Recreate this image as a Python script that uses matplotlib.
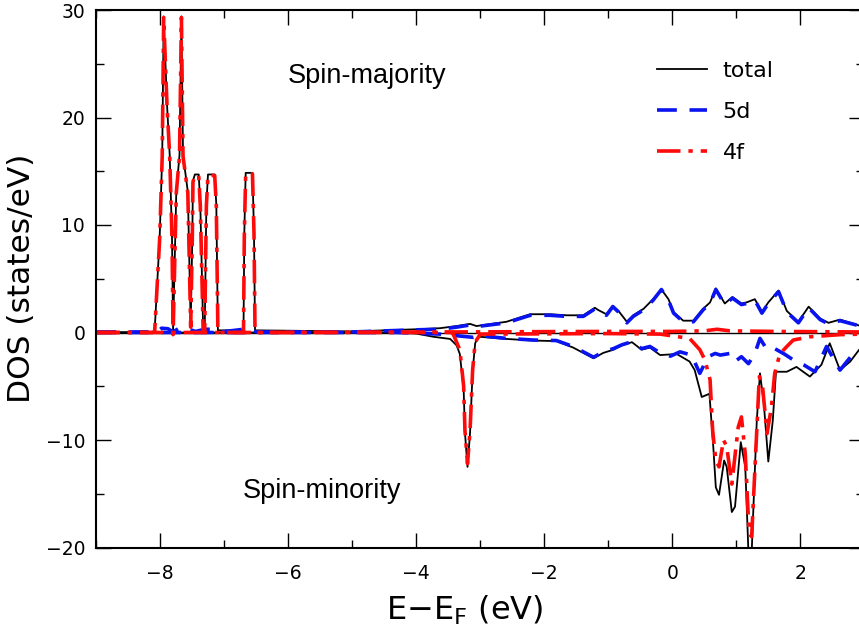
import numpy as np
import matplotlib
matplotlib.use("Agg")
from matplotlib import pyplot as plt
from matplotlib.ticker import MultipleLocator

# ---- data (E - E_F in eV, DOS in states/eV) ----
# spin-majority, total
e_tot_up = [-9.0, -8.12, -8.088, -8.01, -7.97, -7.947, -7.895, -7.853, -7.817, -7.80,
            -7.75, -7.70, -7.67, -7.645, -7.57, -7.525, -7.50, -7.49, -7.46, -7.40,
            -7.375, -7.33, -7.306, -7.28, -7.255, -7.15, -7.125, -7.10, -6.70, -6.687,
            -6.666, -6.56, -6.536, -6.52, -5.0, -4.5, -4.0, -3.63, -3.37, -3.16,
            -3.06, -2.59, -2.38, -2.22, -1.91, -1.65, -1.39, -1.21, -1.16, -1.03,
            -0.93, -0.84, -0.71, -0.61, -0.45, -0.30, -0.17, -0.06, 0.02, 0.17,
            0.33, 0.48, 0.59, 0.68, 0.82, 0.94, 1.08, 1.16, 1.29, 1.40,
            1.50, 1.66, 1.79, 1.97, 2.13, 2.31, 2.44, 2.62, 3.0]
tot_up = [0.0, 0.05, 0.2, 8.8, 16.5, 29.4, 21.2, 16.5, 8.8, 0.2,
          13.1, 16.5, 29.4, 16.5, 13.1, 0.7, 8.8, 14.1, 14.7, 14.7,
          11.9, 0.2, 0.3, 11.9, 14.7, 14.7, 11.9, 0.2, 0.2, 9.3,
          14.85, 14.85, 9.3, 0.2, 0.1, 0.2, 0.3, 0.4, 0.6, 0.8,
          0.6, 1.0, 1.4, 1.7, 1.7, 1.6, 1.6, 2.3, 2.1, 1.7,
          2.5, 2.0, 1.0, 1.6, 2.2, 3.1, 4.0, 3.1, 1.9, 1.1,
          1.1, 2.2, 2.8, 4.1, 2.7, 3.3, 2.7, 2.8, 3.1, 1.9,
          2.8, 3.9, 2.0, 1.0, 2.4, 1.3, 0.9, 1.2, 0.5]

# spin-majority, 5d
e_d_up = [-9.0, -8.05, -7.98, -7.88, -7.80, -7.72, -7.55, -7.45, -7.30, -7.20,
          -7.05, -6.70, -6.58, -6.50, -5.0, -4.5, -4.0, -3.63, -3.37, -3.16,
          -3.06, -2.59, -2.38, -2.22, -1.91, -1.65, -1.39, -1.21, -1.16, -1.03,
          -0.93, -0.84, -0.71, -0.61, -0.45, -0.30, -0.17, -0.06, 0.02, 0.17,
          0.33, 0.48, 0.59, 0.68, 0.82, 0.94, 1.08, 1.16, 1.29, 1.40,
          1.50, 1.66, 1.79, 1.97, 2.13, 2.31, 2.44, 2.62, 3.0]
d_up = [0.05, 0.05, 0.4, 0.35, 0.05, 0.35, 0.3, 0.1, 0.3, 0.3,
        0.05, 0.3, 0.3, 0.05, 0.05, 0.15, 0.25, 0.3, 0.5, 0.7,
        0.55, 0.9, 1.3, 1.6, 1.6, 1.5, 1.5, 2.2, 2.0, 1.6,
        2.4, 1.9, 0.9, 1.5, 2.1, 3.0, 4.0, 3.0, 1.8, 1.0,
        1.0, 2.1, 2.7, 4.0, 2.6, 3.2, 2.6, 2.7, 3.0, 1.8,
        2.7, 3.8, 1.9, 0.9, 2.3, 1.2, 0.8, 1.1, 0.5]

# spin-majority, 4f
e_f_up = [-9.0, -8.12, -8.088, -8.01, -7.97, -7.947, -7.895, -7.853, -7.817, -7.80,
          -7.75, -7.70, -7.67, -7.645, -7.57, -7.525, -7.50, -7.49, -7.46, -7.40,
          -7.375, -7.33, -7.306, -7.28, -7.255, -7.15, -7.125, -7.10, -6.70, -6.687,
          -6.666, -6.56, -6.536, -6.52, -3.5, -1.0, 0.0, 0.5, 0.7, 0.9,
          1.6, 3.0]
f_up = [0.0, 0.0, 0.1, 8.7, 16.4, 29.3, 21.1, 16.4, 8.7, -0.2,
        13.0, 16.4, 29.3, 16.4, 13.0, 0.5, 8.7, 14.0, 14.6, 14.6,
        11.8, 0.0, 0.1, 11.8, 14.6, 14.6, 11.8, 0.0, 0.0, 9.2,
        14.75, 14.75, 9.2, 0.0, 0.05, 0.1, 0.1, 0.15, 0.3, 0.15,
        0.1, 0.05]

# spin-minority, total
e_tot_dn = [-9.0, -4.3, -4.0, -3.73, -3.47, -3.37, -3.32, -3.26, -3.24, -3.20,
            -3.16, -3.12, -3.08, -3.04, -3.0, -2.59, -2.17, -1.81, -1.55, -1.39,
            -1.23, -1.08, -0.92, -0.79, -0.63, -0.48, -0.35, -0.19, 0.07, 0.27,
            0.35, 0.46, 0.58, 0.64, 0.68, 0.73, 0.81, 0.85, 0.93, 0.98,
            1.07, 1.14, 1.19, 1.24, 1.32, 1.37, 1.43, 1.50, 1.57, 1.62,
            1.79, 1.94, 2.15, 2.33, 2.46, 2.62, 2.78, 2.92, 3.0]
tot_dn = [0.0, 0.0, -0.1, -0.4, -0.6, -1.2, -2.0, -5.3, -9.3, -12.5,
          -9.3, -3.6, -1.0, -0.5, -0.4, -0.6, -0.75, -0.8, -1.4, -1.9,
          -2.4, -1.9, -1.6, -1.2, -0.9, -1.6, -1.4, -2.1, -2.0, -2.7,
          -3.5, -6.0, -5.7, -10.6, -14.4, -15.1, -11.9, -12.5, -16.7, -16.2,
          -10.2, -12.5, -20.5, -20.5, -8.2, -3.8, -6.6, -12.0, -8.2, -3.65,
          -3.65, -3.2, -4.1, -3.0, -1.0, -3.5, -2.7, -1.6, -1.4]

# spin-minority, 5d
e_d_dn = [-9.0, -4.3, -3.63, -3.11, -3.0, -2.59, -2.17, -1.81, -1.55, -1.39,
          -1.23, -1.08, -0.92, -0.79, -0.63, -0.48, -0.35, -0.19, -0.03, 0.12,
          0.30, 0.43, 0.56, 0.67, 0.75, 0.90, 0.98, 1.08, 1.19, 1.29,
          1.37, 1.48, 1.60, 1.75, 1.89, 2.05, 2.23, 2.41, 2.62, 2.83, 3.0]
d_dn = [0.0, 0.0, -0.15, -0.45, -0.3, -0.55, -0.7, -0.75, -1.3, -1.8,
        -2.3, -1.8, -1.5, -1.15, -0.85, -1.5, -1.3, -1.9, -2.2, -1.8,
        -2.1, -3.8, -2.25, -1.95, -2.1, -1.95, -2.7, -2.25, -2.9, -1.95,
        -0.55, -1.6, -1.5, -2.0, -2.55, -3.0, -3.65, -1.3, -3.5, -1.95, -1.5]

# spin-minority, 4f
e_f_dn = [-9.0, -3.45, -3.42, -3.32, -3.26, -3.24, -3.20, -3.16, -3.12, -3.08,
          -3.0, -1.0, -0.19, 0.27, 0.43, 0.51, 0.59, 0.63, 0.68, 0.73,
          0.80, 0.85, 0.93, 1.03, 1.08, 1.14, 1.20, 1.24, 1.29, 1.36,
          1.41, 1.48, 1.55, 1.60, 1.68, 1.79, 1.89, 2.15, 2.62, 3.0]
f_dn = [0.0, 0.0, -0.2, -1.6, -5.0, -9.1, -12.2, -9.1, -3.5, -0.9,
        -0.15, -0.1, -0.15, -0.55, -1.6, -2.55, -4.4, -9.1, -11.9, -12.5,
        -10.0, -10.6, -14.1, -8.8, -7.85, -11.3, -18.7, -19.0, -12.8, -4.1,
        -5.0, -9.4, -6.9, -3.8, -2.0, -1.3, -0.7, -0.4, -0.2, -0.15]

plt.rcParams['font.family'] = 'DejaVu Sans'

fig = plt.figure(figsize=(8.59, 6.34), dpi=100)
ax = fig.add_axes([96.3 / 859, 86.5 / 634, 768 / 859, 537.5 / 634])

kw_tot = dict(color='black', lw=1.3, solid_joinstyle='round')
kw_d = dict(color='#0a14f0', lw=2.6, dashes=(5.5, 3.5))
kw_f = dict(color='#ff0a0a', lw=2.6, dashes=(6.5, 2.2, 1.2, 2.2))

ax.axhline(0, color='black', lw=1.0)
ax.plot(e_tot_up, tot_up, label='total', **kw_tot)
ax.plot(e_tot_dn, tot_dn, **kw_tot)
ax.plot(e_d_up, d_up, label='5d', **kw_d)
ax.plot(e_d_dn, d_dn, **kw_d)
ax.plot(e_f_up, f_up, label='4f', **kw_f)
ax.plot(e_f_dn, f_dn, **kw_f)

ax.set_xlim(-9, 3)
ax.set_ylim(-20, 30)
ax.xaxis.set_major_locator(MultipleLocator(2))
ax.xaxis.set_minor_locator(MultipleLocator(1))
ax.yaxis.set_major_locator(MultipleLocator(10))
ax.yaxis.set_minor_locator(MultipleLocator(5))
ax.tick_params(which='both', direction='in', top=True, right=True, width=1.0)
ax.tick_params(which='major', length=11, labelsize=13.5)
ax.tick_params(axis='x', which='major', pad=12)
ax.tick_params(axis='y', which='major', pad=8)
ax.tick_params(which='minor', length=5.5)
for s in ax.spines.values():
    s.set_linewidth(1.5)

ax.set_xlabel(r'E$-$E$_{\mathregular{F}}$ (eV)', fontsize=23)
ax.set_ylabel('DOS (states/eV)', fontsize=22.5)
ax.xaxis.set_label_coords(0.479, -0.085)
ax.yaxis.set_label_coords(-0.078, 0.5)

ax.text(-4.77, 23.9, 'Spin-majority', fontsize=19.5, family='Liberation Sans',
        ha='center', va='center')
ax.text(-5.47, -14.7, 'Spin-minority', fontsize=19.5, family='Liberation Sans',
        ha='center', va='center')

ax.legend(loc='upper left', bbox_to_anchor=(657 / 859, 1 - 61 / 634),
          bbox_transform=fig.transFigure, frameon=False, fontsize=16,
          handlelength=2.25, handletextpad=0.7, labelspacing=0.95,
          borderpad=0, borderaxespad=0)

fig.savefig('out.png', dpi=100)
